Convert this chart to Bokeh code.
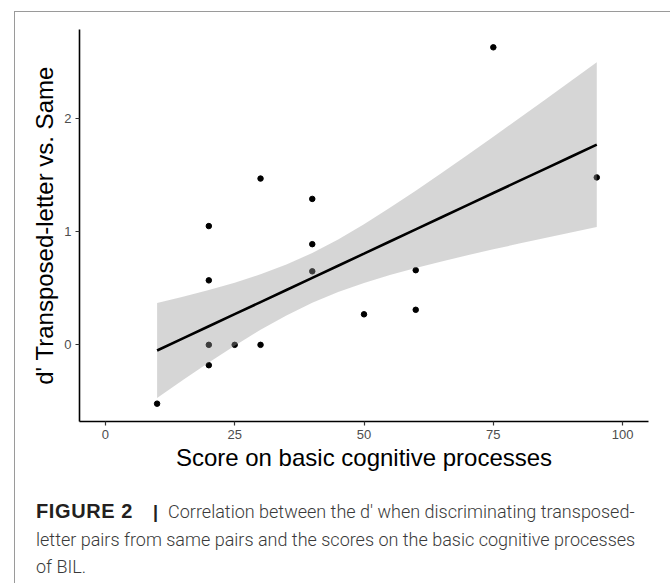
from bokeh.plotting import figure
from bokeh.models import FixedTicker, Div, Range1d, Spacer
from bokeh.layouts import column, row
from bokeh.embed import file_html
from bokeh.resources import INLINE

# ---- data ----
score = [10, 20, 20, 20, 20, 25, 30, 30, 40, 40, 40, 50, 60, 60, 75, 95]
dprime = [-0.52, -0.18, 0.00, 0.57, 1.05, 0.00, 0.00, 1.47, 1.29, 0.89, 0.65, 0.27, 0.66, 0.31, 2.63, 1.48]

fit_x = [10, 15, 20, 25, 30, 35, 40, 45, 50, 55, 60, 65, 70, 75, 80, 85, 90, 95]
fit_y = [-0.050, 0.057, 0.164, 0.271, 0.378, 0.485, 0.592, 0.699, 0.806, 0.914,
         1.021, 1.128, 1.235, 1.342, 1.449, 1.556, 1.663, 1.770]
ci_low = [-0.469, -0.311, -0.156, -0.008, 0.133, 0.260, 0.372, 0.467, 0.547, 0.617,
          0.680, 0.737, 0.792, 0.844, 0.895, 0.945, 0.993, 1.042]
ci_high = [0.369, 0.425, 0.484, 0.550, 0.623, 0.710, 0.812, 0.931, 1.065, 1.211,
           1.362, 1.519, 1.678, 1.840, 2.003, 2.167, 2.333, 2.498]

x_ticks = [0, 25, 50, 75, 100]
y_ticks = [0, 1, 2]

x_title = "Score on basic cognitive processes"
y_title = "d' Transposed-letter vs. Same"

caption_head = "FIGURE 2"
caption_lines = [
    "Correlation between the d' when discriminating transposed-",
    "letter pairs from same pairs and the scores on the basic cognitive processes",
    "of BIL.",
]

# ---- figure ----
p = figure(width=650, height=478, output_backend="svg", toolbar_location=None,
           x_range=Range1d(-5, 105), y_range=Range1d(-0.6775, 2.7875),
           min_border_left=64, min_border_right=17, min_border_top=17, min_border_bottom=69)
p.outline_line_color = None
p.xgrid.visible = False
p.ygrid.visible = False
p.background_fill_color = "white"
p.border_fill_color = "white"

p.scatter(score, dprime, size=5.5, color="black")
p.varea(x=fit_x, y1=ci_low, y2=ci_high, fill_color="#999999", fill_alpha=0.4)
p.line(fit_x, fit_y, line_color="black", line_width=2.6)

for ax in (p.xaxis[0], p.yaxis[0]):
    ax.axis_line_color = "black"
    ax.axis_line_width = 1.6
    ax.major_tick_line_color = "#333333"
    ax.major_tick_line_width = 1.2
    ax.major_tick_out = 4
    ax.major_tick_in = 0
    ax.minor_tick_line_color = None
    ax.major_label_text_font = "Liberation Sans"
    ax.major_label_text_font_size = "13px"
    ax.major_label_text_color = "#4d4d4d"
    ax.axis_label_text_font = "Liberation Sans"
    ax.axis_label_text_font_size = "24px"
    ax.axis_label_text_font_style = "normal"
    ax.axis_label_text_color = "black"

p.xaxis[0].ticker = FixedTicker(ticks=x_ticks)
p.yaxis[0].ticker = FixedTicker(ticks=y_ticks)
p.xaxis[0].axis_label = x_title
p.yaxis[0].axis_label = y_title
p.xaxis[0].major_label_standoff = 4
p.yaxis[0].major_label_standoff = 4
p.xaxis[0].axis_label_standoff = 2
p.yaxis[0].axis_label_standoff = 3

caption_html = (
    '<div style="font-family:Roboto, \'Liberation Sans\', sans-serif; font-weight:300; '
    'font-size:18px; line-height:27px; color:#3a3a3a; white-space:nowrap; padding:3px 0 0 16px;">'
    '<span style="font-family:\'Liberation Sans\', sans-serif; font-weight:700; font-size:20px; '
    'letter-spacing:0.6px; color:#231f20;">' + caption_head + '</span>'
    '<span style="display:inline-block; font-family:\'Liberation Sans\', sans-serif; font-weight:700; '
    'color:#231f20; margin-left:20px; margin-right:10px;">|</span>'
    + "<br>".join(caption_lines) + '</div>'
)
cap = Div(text=caption_html, width=650, height=90)

boxed = column(p, cap,
               styles={"border-top": "1px solid #9a9a9a", "border-left": "1px solid #9a9a9a",
                       "border-right": "1px solid #9a9a9a", "background": "white"})
layout = row(Spacer(width=14), column(Spacer(height=11), boxed))

open("out.html", "w").write(file_html(layout, INLINE))
